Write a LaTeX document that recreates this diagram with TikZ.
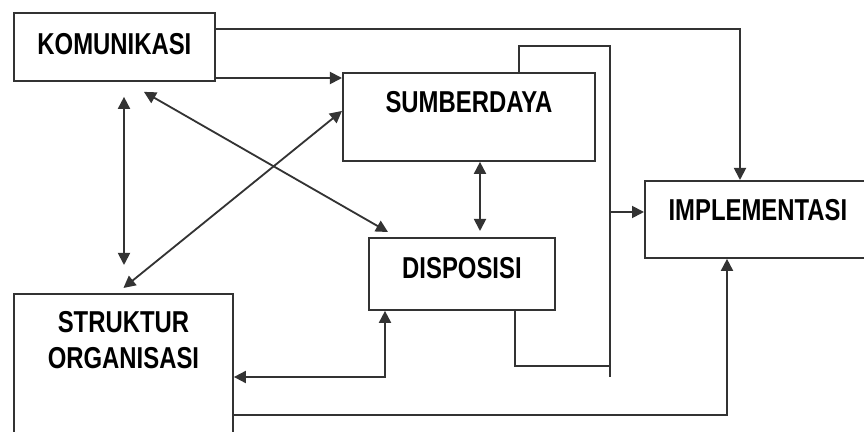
\documentclass[tikz,border=0pt]{standalone}
\usepackage{fontspec}
\usetikzlibrary{arrows.meta,calc}
\newfontfamily\boxfont{Liberation Sans}[FakeStretch=0.79]

\begin{document}
\begin{tikzpicture}[x=0.025cm,y=-0.025cm,
  box/.style={draw=black!80,line width=1.3pt,inner sep=0pt,anchor=north west,font=\boxfont\bfseries\fontsize{21.5}{25.6}\selectfont},
  conn/.style={draw=black!80,line width=1.3pt},
  arr/.style={conn,-{Triangle[length=0.3cm,width=0.3cm]}},
  dbl/.style={conn,{Triangle[length=0.3cm,width=0.3cm]}-{Triangle[length=0.3cm,width=0.3cm]}}]
\useasboundingbox (0,0) rectangle (864,432);
\clip (0,0) rectangle (864,432);

\node [box,minimum width=5.025cm,text height=1.05cm,text depth=0.65cm] (kom) at (13,12) {KOMUNIKASI};
\node [box,minimum width=6.3cm,text height=1cm,text depth=1.2cm] (sum) at (342,72) {SUMBERDAYA};
\node [box,minimum width=4.65cm,text height=1.025cm,text depth=0.775cm] (dis) at (368,237) {DISPOSISI};
\node [box,minimum width=5.65cm,text height=1cm,text depth=0.925cm] (imp) at (644,180) {IMPLEMENTASI};
\node [box,minimum width=5.475cm,text height=0.975cm,text depth=4cm] (str) at (13,293) {\begin{tabular}[t]{@{}c@{}}STRUKTUR\\ORGANISASI\end{tabular}};

\draw [arr] (kom.east |- 0,29) -| (imp.north -| 740,0);
\draw [arr] (kom.east |- 0,78) -- (sum.west |- 0,78);
\draw [dbl,shorten <=0.375cm,shorten >=0.7cm] (kom.south -| 124,0) -- (str.north -| 124,0);
\draw [dbl] ($(kom.south)+(29.5,10)$) -- ($(dis.north west)+(20,-5)$);
\draw [dbl] ($(str.north)+(0,-5)$) -- ($(sum.west)+(0,-6)$);
\draw [dbl,shorten >=0.15cm] (sum.south -| 480,0) -- (dis.north -| 480,0);

% rail on the right of the boxes
\coordinate (bustop) at (610,46); \coordinate (busend) at (610,377);
\draw [conn] (sum.north -| 519,0) |- (bustop) -- (busend);
\draw [arr] (bustop |- 0,212) -- (imp.west |- 0,212);
\draw [conn] (dis.south -| 515,0) |- (busend |- 0,366);

\draw [dbl] (str.east |- 0,377) -| (dis.south -| 385,0);
\draw [arr] (str.east |- 0,415) -| (imp.south -| 727,0);
\end{tikzpicture}
\end{document}
